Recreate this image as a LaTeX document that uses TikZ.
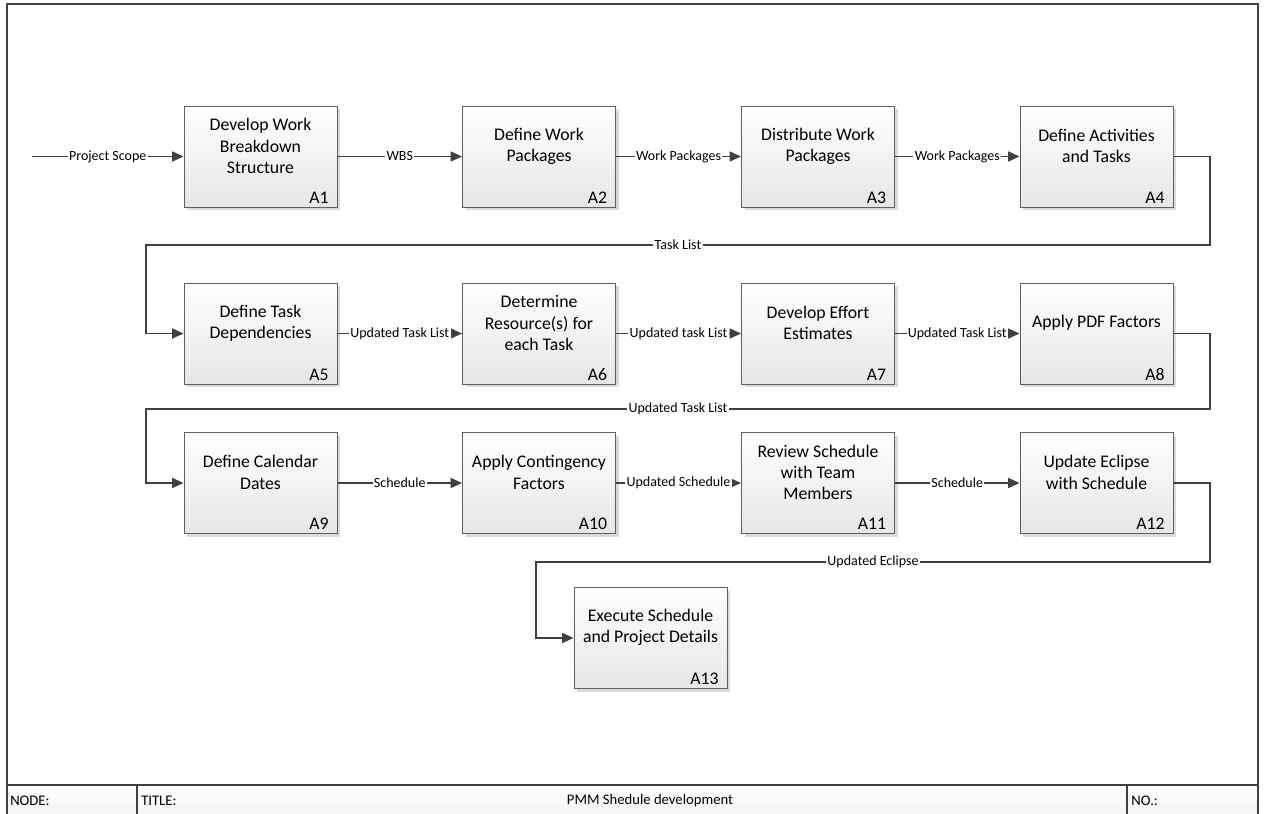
\documentclass[tikz,border=0pt]{standalone}
\usepackage{fontspec}
\setmainfont{Carlito}
\usetikzlibrary{arrows.meta,shadows}
\definecolor{linec}{HTML}{404040}
\definecolor{boxline}{HTML}{5F5F5F}
\definecolor{boxbot}{HTML}{E6E6E6}
\definecolor{shadowc}{HTML}{DADADA}
\definecolor{framec}{HTML}{404040}
\begin{document}
\begin{tikzpicture}[x=0.75pt,y=-0.75pt,
  box/.style={draw=boxline, line width=0.75pt, top color=white, bottom color=boxbot,
    minimum width=114.75pt, minimum height=75.75pt, inner sep=0pt,
    drop shadow={shadow xshift=2.25pt, shadow yshift=-2.25pt, fill=shadowc, opacity=1}},
  boxtext/.style={align=center, font=\fontsize{13.3}{15.9}\selectfont, inner sep=0pt},
  idlab/.style={font=\fontsize{13.3}{15.9}\selectfont, inner sep=0pt, anchor=base east},
  lab/.style={fill=white, font=\fontsize{10.5}{12}\selectfont, inner sep=1pt},
  conn/.style={draw=linec, line width=1.1pt, -{Triangle[length=8.5pt,width=7.5pt]}},
  bartext/.style={font=\fontsize{11}{13}\selectfont, inner sep=0pt, text=black},
  framel/.style={draw=framec, line width=1.2pt}
]
\useasboundingbox (0,0) rectangle (1265,814);
\fill[white] (0,0) rectangle (1265,814);

% title bar
\shade[top color=white, bottom color=gray!14] (7,785) rectangle (1258,830);
\draw[framel] (7,4) rectangle (1258,830);
\draw[draw=framec, line width=0.9pt] (7,785) -- (1258,785);
\draw[draw=framec, line width=0.9pt] (137,785) -- (137,830);
\draw[draw=framec, line width=0.9pt] (1127,785) -- (1127,830);
\node[bartext, anchor=west] (nodelab) at (10,801) {NODE:};
\node[bartext, anchor=west] (titlelab) at (141,801) {TITLE:};
\node[bartext] (title) at (650,801) {PMM Shedule development};
\node[bartext, anchor=west] (nolab) at (1131,801) {NO.:};

% boxes
\newcommand{\mkbox}[5]{%
  \node[box] (#1) at (#2,#3) {};
  \node[boxtext] (#1t) at ([yshift=7.9pt]#1.center) {#4};
  \node[idlab] (#1id) at ([xshift=-6.4pt,yshift=3.2pt]#1.south east) {#5};
}
\mkbox{A1}{260.5}{156.5}{Develop Work\\Breakdown\\Structure}{A1}
\mkbox{A2}{539}{156.5}{Define Work\\Packages}{A2}
\mkbox{A3}{818}{156.5}{Distribute Work\\Packages}{A3}
\mkbox{A4}{1096.5}{156.5}{Define Activities\\and Tasks}{A4}
\mkbox{A5}{260.5}{333.5}{Define Task\\Dependencies}{A5}
\mkbox{A6}{539}{333.5}{Determine\\Resource(s) for\\each Task}{A6}
\mkbox{A7}{818}{333.5}{Develop Effort\\Estimates}{A7}
\mkbox{A8}{1096.5}{333.5}{Apply PDF Factors}{A8}
\mkbox{A9}{260.5}{483}{Define Calendar\\Dates}{A9}
\mkbox{A10}{539}{483}{Apply Contingency\\Factors}{A10}
\mkbox{A11}{818}{483}{Review Schedule\\with Team\\Members}{A11}
\mkbox{A12}{1096.5}{483}{Update Eclipse\\with Schedule}{A12}
\mkbox{A13}{650.5}{638}{Execute Schedule\\and Project Details}{A13}

% connectors
\coordinate (start) at (32,156.5);
\draw[conn] (start) -- node[lab] {Project Scope} (A1.west);
\draw[conn] (A1.east) -- node[lab] {WBS} (A2.west);
\draw[conn] (A2.east) -- node[lab] {Work Packages} (A3.west);
\draw[conn] (A3.east) -- node[lab] {Work Packages} (A4.west);

\coordinate (l1a) at (1210,245);
\coordinate (l1b) at (146,245);
\draw[conn] (A4.east) -| (l1a) -- node[lab] {Task List} (l1b) |- (A5.west);

\draw[conn] (A5.east) -- node[lab] {Updated Task List} (A6.west);
\draw[conn] (A6.east) -- node[lab] {Updated task List} (A7.west);
\draw[conn] (A7.east) -- node[lab] {Updated Task List} (A8.west);

\coordinate (l2a) at (1210,409);
\coordinate (l2b) at (146,409);
\draw[conn] (A8.east) -| (l2a) -- node[lab] {Updated Task List} (l2b) |- (A9.west);

\draw[conn] (A9.east) -- node[lab] {Schedule} (A10.west);
\draw[conn] (A10.east) -- node[lab] {Updated Schedule} (A11.west);
\draw[conn] (A11.east) -- node[lab] {Schedule} (A12.west);

\coordinate (l3a) at (1210,562);
\coordinate (l3b) at (536,562);
\draw[conn] (A12.east) -| (l3a) -- node[lab] {Updated Eclipse} (l3b) |- (A13.west);
\end{tikzpicture}
\end{document}
